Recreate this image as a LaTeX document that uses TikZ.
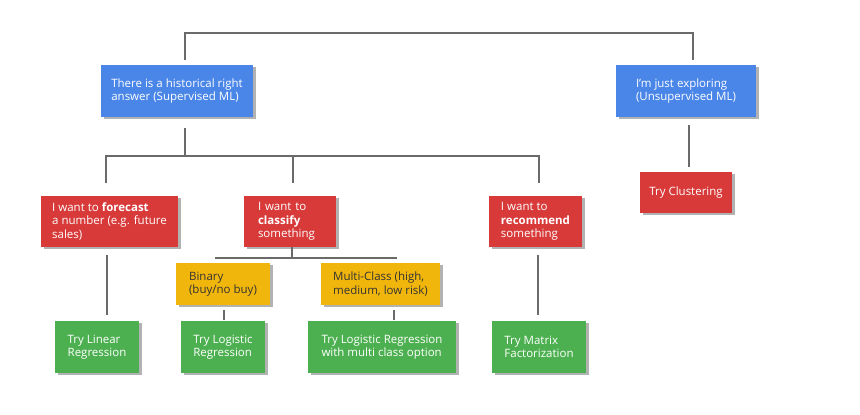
\documentclass[tikz,border=0pt]{standalone}
\usepackage{fontspec}
\setmainfont{Open Sans}
\usetikzlibrary{shadows}
\definecolor{gblue}{HTML}{4A86E8}
\definecolor{gred}{HTML}{D83A3A}
\definecolor{gyellow}{HTML}{F1B60C}
\definecolor{ggreen}{HTML}{4CB050}
\definecolor{linegray}{HTML}{6A6A6A}
\definecolor{darktext}{HTML}{333333}
\tikzset{
  box/.style={rectangle, inner sep=0pt, align=left, text=white,
    font=\fontsize{11.5}{13.3}\selectfont,
    drop shadow={shadow xshift=2.5pt, shadow yshift=-2.5pt, fill=black!30, opacity=1}},
  bluebox/.style={box, fill=gblue},
  redbox/.style={box, fill=gred},
  yellowbox/.style={box, fill=gyellow, text=darktext},
  greenbox/.style={box, fill=ggreen},
  conn/.style={draw=linegray, line width=2pt}
}
\begin{document}
\begin{tikzpicture}[x=1pt,y=1pt]
\fill[white] (0,0) rectangle (860,415);
\useasboundingbox (0,0) rectangle (860,415);

% level 1
\node[bluebox, minimum width=152pt, minimum height=52pt] (sup) at (177,324)
  {There is a historical right\\answer (Supervised ML)};
\node[bluebox, minimum width=140pt, minimum height=52pt] (unsup) at (686,324)
  {I'm just exploring\\(Unsupervised ML)};

% level 2
\node[redbox, minimum width=92pt, minimum height=41pt] (clus) at (686,222.5)
  {Try Clustering};
\node[redbox, minimum width=137pt, minimum height=51pt] (fore) at (109.5,193.5)
  {I want to \textbf{forecast}\\a number (e.g. future\\sales)};
\node[redbox, minimum width=92pt, minimum height=51pt, text width=64pt] (clas) at (290,193.5)
  {I want to\\\textbf{classify}\\something};
\node[redbox, minimum width=93pt, minimum height=51pt] (reco) at (535.5,193.5)
  {I want to\\\textbf{recommend}\\something};

% level 3
\node[yellowbox, minimum width=94pt, minimum height=42pt] (bin) at (223,131)
  {Binary\\(buy/no buy)};
\node[yellowbox, minimum width=119pt, minimum height=42pt] (mult) at (380.5,131)
  {Multi-Class (high,\\medium, low risk)};

% level 4
\node[greenbox, minimum width=84pt, minimum height=52pt] (lin) at (97,68)
  {Try Linear\\Regression};
\node[greenbox, minimum width=84pt, minimum height=52pt] (log) at (223,68)
  {Try Logistic\\Regression};
\node[greenbox, minimum width=148pt, minimum height=52pt] (mlog) at (382,68)
  {Try Logistic Regression\\with multi class option};
\node[greenbox, minimum width=94pt, minimum height=52pt] (mat) at (539,68)
  {Try Matrix\\Factorization};

% connectors
\coordinate (topbar) at (430,382);
\draw[conn] ([xshift=8pt,yshift=5pt]sup.north) |- (topbar) -| ([xshift=7pt,yshift=5pt]unsup.north);

\draw[conn] ([xshift=8pt,yshift=-11pt]sup.south) -- ++(0,-28);
\draw[conn] ([xshift=-3.5pt,yshift=13pt]fore.north) -- ++(0,27) -| ([xshift=3.5pt,yshift=13pt]reco.north);
\draw[conn] ([xshift=3pt,yshift=13pt]clas.north) -- ++(0,27);

\draw[conn] ([xshift=3pt,yshift=-8pt]unsup.south) -- ([xshift=3pt,yshift=5pt]clus.north);

\draw[conn] ([xshift=-2.5pt,yshift=-8pt]fore.south) -- ([xshift=10pt,yshift=6pt]lin.north);

\coordinate (cbL) at (215,157);
\coordinate (cbR) at (397,157);
\draw[conn] ([xshift=2pt]clas.south) -- ++(0,-11);
\draw[conn] (cbL) -- (cbR);

\draw[conn] ([xshift=1pt,yshift=-5pt]bin.south) -- ([xshift=1pt,yshift=1pt]log.north);
\draw[conn] ([xshift=13.5pt,yshift=-5pt]mult.south) -- ([xshift=12pt,yshift=1pt]mlog.north);

\draw[conn] ([xshift=2.5pt,yshift=-8pt]reco.south) -- ([xshift=-1pt,yshift=6pt]mat.north);
\end{tikzpicture}
\end{document}
